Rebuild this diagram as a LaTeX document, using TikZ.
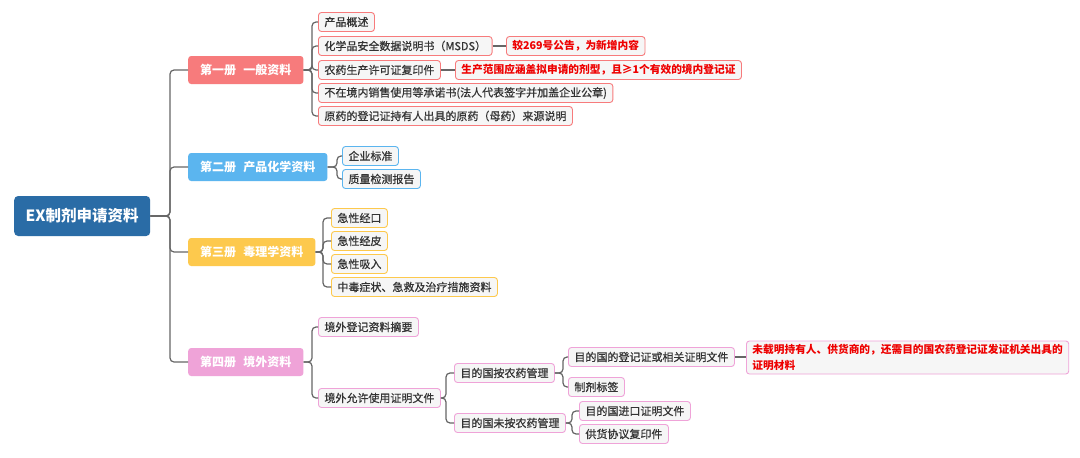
\documentclass[tikz,border=0pt]{standalone}
\usepackage{fontspec}
\setmainfont{Noto Sans CJK SC}
\newfontfamily\leaffont{Noto Sans CJK SC}[FakeBold=0.7]
\definecolor{rootc}{HTML}{2A6CA6}
\definecolor{c1}{HTML}{F77B7C}
\definecolor{c2}{HTML}{5BB5EF}
\definecolor{c3}{HTML}{FDC94D}
\definecolor{c4}{HTML}{EFA3D8}
\definecolor{leaffill}{HTML}{F6F6F6}
\definecolor{leaftext}{HTML}{333333}
\definecolor{notered}{HTML}{EE0000}
\definecolor{connc}{HTML}{666666}
\begin{document}
\begin{tikzpicture}[x=1pt,y=-1pt,
  rootbox/.style={fill=rootc, rounded corners=4pt, text=white, font=\fontsize{15.5}{18}\selectfont\bfseries, minimum width=136pt, minimum height=40pt, anchor=west, inner sep=0pt},
  branch/.style={fill=#1, rounded corners=3pt, text=white, font=\fontsize{12}{14}\selectfont\bfseries, minimum height=28pt, anchor=west, inner xsep=12pt, inner ysep=0pt},
  leaf/.style={draw=#1, fill=leaffill, rounded corners=3pt, line width=0.9pt, text=leaftext, font=\fontsize{11}{13}\selectfont\leaffont, minimum height=19pt, inner xsep=6pt, inner ysep=0pt, anchor=west},
  note/.style={leaf=#1, text=notered, font=\fontsize{10.7}{16}\selectfont\bfseries},
  conn/.style={draw=connc, line width=1.2pt, rounded corners=4pt}]
\useasboundingbox (0,0) rectangle (1080,458);
\fill[white] (0,0) rectangle (1080,458);

% root and branches
\node[rootbox] (root) at (14,216) {EX制剂申请资料};
\node[branch=c1] (b1) at (188,70) {第一册\hspace{0.6em}一般资料};
\node[branch=c2] (b2) at (188,167) {第二册\hspace{0.6em}产品化学资料};
\node[branch=c3] (b3) at (188,252) {第三册\hspace{0.6em}毒理学资料};
\node[branch=c4] (b4) at (188,362) {第四册\hspace{0.6em}境外资料};
\coordinate (j0) at (170,216);
\foreach \b in {b1,b2,b3,b4} \draw[conn] (root.east) -- (j0) |- (\b.west);

% branch 1
\node[leaf=c1] (c1a) at (318,22) {产品概述};
\node[leaf=c1] (c1b) at (318,46) {化学品安全数据说明书（MSDS）};
\node[leaf=c1] (c1c) at (318,70) {农药生产许可证复印件};
\node[leaf=c1] (c1d) at (318,93) {不在境内销售使用等承诺书(法人代表签字并加盖企业公章)};
\node[leaf=c1] (c1e) at (318,116) {原药的登记证持有人出具的原药（母药）来源说明};
\node[note=c1] (n1b) at (506,46) {较269号公告，为新增内容};
\node[note=c1] (n1c) at (455,70) {生产范围应涵盖拟申请的剂型，且≥1个有效的境内登记证};
\coordinate (j1) at (312,70);
\foreach \c in {c1a,c1b,c1c,c1d,c1e} \draw[conn] (b1.east) -- (j1) |- (\c.west);
\draw[conn] (c1b.east) -- (n1b.west);
\draw[conn] (c1c.east) -- (n1c.west);

% branch 2
\node[leaf=c2] (c2a) at (342,156) {企业标准};
\node[leaf=c2] (c2b) at (342,179) {质量检测报告};
\coordinate (j2) at (337,167);
\foreach \c in {c2a,c2b} \draw[conn] (b2.east) -- (j2) |- (\c.west);

% branch 3
\node[leaf=c3] (c3a) at (331,218) {急性经口};
\node[leaf=c3] (c3b) at (331,241) {急性经皮};
\node[leaf=c3] (c3c) at (331,264) {急性吸入};
\node[leaf=c3] (c3d) at (331,287) {中毒症状、急救及治疗措施资料};
\coordinate (j3) at (323,252);
\foreach \c in {c3a,c3b,c3c,c3d} \draw[conn] (b3.east) -- (j3) |- (\c.west);

% branch 4
\node[leaf=c4] (c4a) at (318,327) {境外登记资料摘要};
\node[leaf=c4] (c4b) at (318,398) {境外允许使用证明文件};
\coordinate (j4) at (312,362);
\foreach \c in {c4a,c4b} \draw[conn] (b4.east) -- (j4) |- (\c.west);

\node[leaf=c4] (d1) at (454,373) {目的国按农药管理};
\node[leaf=c4] (d2) at (454,423) {目的国未按农药管理};
\coordinate (j5) at (446,398);
\foreach \c in {d1,d2} \draw[conn] (c4b.east) -- (j5) |- (\c.west);

\node[leaf=c4] (e1) at (568,357) {目的国的登记证或相关证明文件};
\node[leaf=c4] (e2) at (568,387) {制剂标签};
\coordinate (j6) at (563,373);
\foreach \c in {e1,e2} \draw[conn] (d1.east) -- (j6) |- (\c.west);

\node[note=c4, align=left, minimum height=33pt, inner ysep=2pt] (ne1) at (746,357.5) {未载明持有人、供货商的，还需目的国农药登记证发证机关出具的\\证明材料};
\draw[conn] (e1.east) -- (ne1.west |- e1.east);

\node[leaf=c4] (e3) at (579,411) {目的国进口证明文件};
\node[leaf=c4] (e4) at (579,434) {供货协议复印件};
\coordinate (j7) at (572,423);
\foreach \c in {e3,e4} \draw[conn] (d2.east) -- (j7) |- (\c.west);
\end{tikzpicture}
\end{document}
